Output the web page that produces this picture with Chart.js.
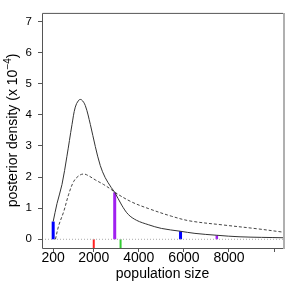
<!DOCTYPE html>
<html>
<head>
<meta charset="utf-8">
<script src="https://cdn.jsdelivr.net/npm/chart.js@4"></script>
<style>
html,body{margin:0;padding:0;background:#fff;}
canvas{display:block;}
</style>
</head>
<body>
<canvas id="c" width="291" height="291"></canvas>
<script>
// ---- data ----
const solidX = [200, 370, 590, 810, 1035, 1180, 1330, 1450, 1625, 1850, 2070, 2290, 2510, 2780, 2930, 3240, 3530, 3900, 4420, 5000, 5830, 6490, 7450, 8490, 10400];
const solidY = [0.57, 1.15, 1.76, 2.67, 3.69, 4.25, 4.47, 4.49, 4.30, 3.69, 2.98, 2.37, 1.98, 1.66, 1.51, 1.10, 0.80, 0.61, 0.47, 0.35, 0.26, 0.19, 0.13, 0.08, 0.05];
const dashedX = [300, 445, 667, 889, 1110, 1332, 1554, 1776, 2069, 2441, 2778, 2930, 3683, 4420, 5458, 6270, 7748, 9227, 10400];
const dashedY = [0.0, 0.44, 0.89, 1.45, 1.86, 2.04, 2.10, 2.04, 1.91, 1.76, 1.60, 1.51, 1.20, 0.99, 0.74, 0.59, 0.46, 0.34, 0.23];
const markX = [200, 2930, 5850, 7460];
const markTop = [0.57, 1.51, 0.26, 0.13];
const refX = [2000, 3190];
const xTicks = [200, 2000, 4000, 6000, 8000, 10000];
const xTickLabels = ['200', '2000', '4000', '6000', '8000', ''];
const yTicks = [0, 1, 2, 3, 4, 5, 6, 7];
const xLabel = 'population size';
const yLabelMain = 'posterior density (x 10';
const yLabelSup = '\u22124';
const yLabelTail = ')';

// ---- styles ----
const markColors = ['#0000ff', '#a020f0', '#0000ff', '#a020f0'];
const markWidths = [3, 3, 3, 2.5];
const refColors = ['#ff2020', '#33cc33'];
const X_MIN = -296, X_MAX = 10396, Y_MIN = -0.28, Y_MAX = 7.28;
const FONT = '"Liberation Sans", Arial, Helvetica, sans-serif';

const datasets = [];
datasets.push({
  data: [{x: X_MIN, y: 0}, {x: X_MAX, y: 0}],
  borderColor: '#aaaaaa', borderWidth: 1, borderDash: [1, 2], pointRadius: 0, showLine: true, tension: 0
});
datasets.push({
  data: dashedX.map((x, i) => ({x, y: dashedY[i]})),
  borderColor: '#444444', borderWidth: 1, borderDash: [3, 2], pointRadius: 0, showLine: true, tension: 0.35
});
datasets.push({
  data: solidX.map((x, i) => ({x, y: solidY[i]})),
  borderColor: '#333333', borderWidth: 1, pointRadius: 0, showLine: true, tension: 0.35
});
markX.forEach((x, i) => datasets.push({
  data: [{x, y: 0}, {x, y: markTop[i]}],
  borderColor: markColors[i], borderWidth: markWidths[i], borderCapStyle: 'butt', pointRadius: 0, showLine: true, tension: 0
}));
refX.forEach((x, i) => datasets.push({
  data: [{x, y: 0}, {x, y: Y_MIN}],
  borderColor: refColors[i], borderWidth: 2, borderCapStyle: 'butt', pointRadius: 0, showLine: true, tension: 0
}));

const framePlugin = {
  id: 'frame',
  afterDraw(chart) {
    const ctx = chart.ctx, a = chart.chartArea;
    ctx.save();
    ctx.strokeStyle = '#555555';
    ctx.lineWidth = 1;
    ctx.beginPath();
    ctx.moveTo(a.left + 0.5, a.bottom + 0.5);
    ctx.lineTo(a.left + 0.5, a.top + 0.5);
    ctx.lineTo(a.right, a.top + 0.5);
    ctx.moveTo(a.left + 0.5, a.bottom + 0.5);
    ctx.lineTo(a.right, a.bottom + 0.5);
    ctx.stroke();
    ctx.strokeStyle = '#b0b0b0';
    ctx.lineWidth = 2;
    ctx.beginPath();
    ctx.moveTo(a.right + 1, a.top);
    ctx.lineTo(a.right + 1, a.bottom + 1);
    ctx.stroke();
    // titles
    ctx.fillStyle = '#000';
    ctx.font = '14px ' + FONT;
    ctx.textAlign = 'center';
    ctx.textBaseline = 'alphabetic';
    ctx.fillText(xLabel, (a.left + a.right) / 2, 278);
    // y title with superscript
    ctx.save();
    ctx.translate(17, (a.top + a.bottom) / 2);
    ctx.rotate(-Math.PI / 2);
    ctx.textAlign = 'left';
    const mainF = '14px ' + FONT, supF = '10px ' + FONT;
    ctx.font = mainF;
    const w1 = ctx.measureText(yLabelMain).width;
    const w3 = ctx.measureText(yLabelTail).width;
    ctx.font = supF;
    const w2 = ctx.measureText(yLabelSup).width;
    let sx = -(w1 + w2 + w3) / 2;
    ctx.font = mainF;
    ctx.fillText(yLabelMain, sx, 0);
    sx += w1;
    ctx.font = supF;
    ctx.fillText(yLabelSup, sx, -6);
    sx += w2;
    ctx.font = mainF;
    ctx.fillText(yLabelTail, sx, 0);
    ctx.restore();
    ctx.restore();
  }
};

new Chart(document.getElementById('c'), {
  type: 'scatter',
  data: {datasets},
  options: {
    responsive: false,
    devicePixelRatio: 1,
    animation: false,
    layout: {padding: {top: 1, right: 8, left: 0, bottom: 0}},
    plugins: {legend: {display: false}, tooltip: {enabled: false}},
    scales: {
      x: {
        type: 'linear', min: X_MIN, max: X_MAX,
        afterBuildTicks(s) { s.ticks = xTicks.map(v => ({value: v})); },
        afterFit(s) { s.height = 43; },
        ticks: {
          autoSkip: false, maxRotation: 0, padding: -2, color: '#000',
          font: {family: FONT, size: 14},
          callback(v) { const i = xTicks.indexOf(v); return i >= 0 ? xTickLabels[i] : ''; }
        },
        grid: {drawOnChartArea: false, drawTicks: true, tickLength: 4, color: '#555555'},
        border: {display: false}
      },
      y: {
        type: 'linear', min: Y_MIN, max: Y_MAX,
        afterBuildTicks(s) { s.ticks = yTicks.map(v => ({value: v})); },
        afterFit(s) { s.width = 42; },
        ticks: {padding: 6, color: '#000', font: {family: FONT, size: 11.5}},
        grid: {drawOnChartArea: false, drawTicks: true, tickLength: 4, color: '#555555'},
        border: {display: false}
      }
    }
  },
  plugins: [framePlugin]
});
</script>
</body>
</html>
